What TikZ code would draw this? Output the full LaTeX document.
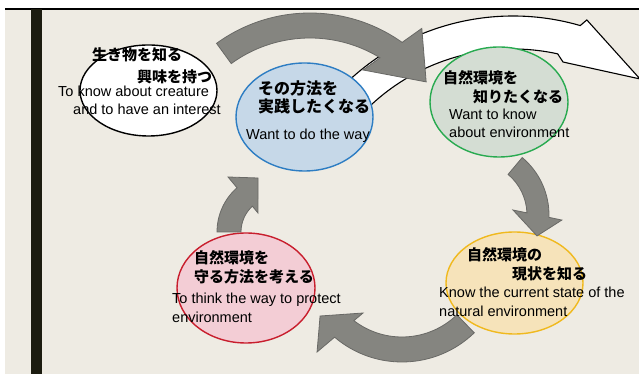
\documentclass[tikz,border=0pt]{standalone}
\usepackage{fontspec}
\newfontfamily\enfont{Liberation Sans}
\newfontfamily\jpfont{Noto Sans CJK JP}
\usetikzlibrary{shapes.geometric,calc}
\definecolor{bgc}{RGB}{238,235,227}
\definecolor{barc}{RGB}{28,28,16}
\definecolor{grayc}{RGB}{133,133,128}
\definecolor{grayd}{RGB}{105,105,102}
\definecolor{blueF}{RGB}{198,216,232}
\definecolor{blueD}{RGB}{45,125,195}
\definecolor{greenF}{RGB}{212,221,211}
\definecolor{greenD}{RGB}{40,170,80}
\definecolor{yelF}{RGB}{246,227,186}
\definecolor{yelD}{RGB}{240,185,30}
\definecolor{redF}{RGB}{243,205,213}
\definecolor{redD}{RGB}{200,30,45}
\begin{document}
\begin{tikzpicture}[x=1pt,y=1pt,
  bubble/.style={ellipse, inner sep=0pt, line width=1.4pt},
  jp/.style={font=\jpfont\bfseries\fontsize{15}{18}\selectfont, anchor=west, inner sep=0pt, text height=11.4pt, text depth=0pt},
  jpb/.style={jp, font=\jpfont\bfseries\fontsize{16}{19}\selectfont, text height=12.2pt},
  en/.style={font=\enfont\fontsize{14.5}{17}\selectfont, anchor=west, inner sep=0pt, text height=10.4pt, text depth=0pt},
  grayarrow/.style={fill=grayc, draw=grayd, line width=0.8pt, line join=miter},
  whitearrow/.style={fill=white, draw=black, line width=1.1pt, line join=miter}]
\useasboundingbox (0,0) rectangle (639,374);
\clip (0,0) rectangle (639,374);
\fill[white] (0,0) rectangle (639,374);
\fill[bgc] (5,0) rectangle (639,365);
\draw[line width=1.5pt, black] (5,365) -- (639,365);
\fill[barc] (31,0) rectangle (42,365);

% centres of the curved arrows
\coordinate (cW) at (513,117);
\coordinate (cT) at (310,202);
\coordinate (cR) at (474,159);
\coordinate (cB) at (402,116);
\coordinate (cL) at (276,142);

% white arrow (behind)
\draw[whitearrow] ($(cW)+(145:241)$) arc[start angle=145,end angle=73.8,radius=241pt]
  -- ($(cW)+(72.7:248.3)$) -- ($(cW)+(54.5:218.7)$) -- ($(cW)+(75.6:201.3)$)
  -- ($(cW)+(77.6:208)$) arc[start angle=77.6,end angle=145,radius=208pt] -- cycle;

% ellipses
\node[bubble, fill=white, draw=black, minimum width=137pt, minimum height=91pt] (eWhite) at (148.5,283.5) {};
\node[bubble, fill=blueF, draw=blueD, minimum width=137pt, minimum height=108pt] (eBlue) at (304.5,257) {};
\node[bubble, fill=greenF, draw=greenD, minimum width=138pt, minimum height=110pt] (eGreen) at (499,272) {};
\node[bubble, fill=yelF, draw=yelD, minimum width=137pt, minimum height=102pt] (eYellow) at (514.5,91) {};
\node[bubble, fill=redF, draw=redD, minimum width=138pt, minimum height=110pt] (eRed) at (246,86) {};

% gray arrows
\draw[grayarrow] ($(cT)+(126:159)$) arc[start angle=126,end angle=54.6,radius=159pt]
  -- ($(cT)+(52.1:182)$) -- ($(cT)+(37.8:147)$) -- ($(cT)+(62.5:115)$)
  -- ($(cT)+(58.5:134)$) arc[start angle=58.5,end angle=126,radius=134pt] -- cycle;
\draw[grayarrow] ($(cR)+(50:75)$) arc[start angle=50,end angle=-1.8,radius=75pt]
  -- ($(cR)+(-3.3:88)$) -- ($(cR)+(-18.4:66.4)$) -- ($(cR)+(7.3:39.3)$)
  -- ($(cR)+(2.3:53)$) arc[start angle=2.3,end angle=50,radius=53pt] -- cycle;
\draw[grayarrow] ($(cB)+(-46:104)$) arc[start angle=-46,end angle=-130.4,radius=104pt]
  -- ($(cB)+(-132.1:126.7)$) -- ($(cB)+(-144.7:100.4)$) -- ($(cB)+(-125.3:67.4)$)
  -- ($(cB)+(-127.5:79)$) arc[start angle=-127.5,end angle=-46,radius=79pt] -- cycle;
\draw[grayarrow] ($(cL)+(180:59)$) arc[start angle=180,end angle=131.4,radius=59pt]
  -- ($(cL)+(131.1:73)$) -- ($(cL)+(108.4:56.9)$) -- ($(cL)+(133.5:26.2)$)
  -- ($(cL)+(132.5:35)$) arc[start angle=132.5,end angle=180,radius=35pt] -- cycle;

% texts
\node[jp] (tW1) at (92,319) {生き物を知る};
\node[jp] (tW2) at (137,297) {興味を持つ};
\node[en] (tW3) at (58,283) {To know about creature};
\node[en] (tW4) at (73,265) {and to have an interest};

\node[jpb] (tB1) at (258,285.5) {その方法を};
\node[jpb] (tB2) at (258,267.5) {実践したくなる};
\node[en] (tB3) at (246,240) {Want to do the way};

\node[jp] (tG1) at (443,296) {自然環境を};
\node[jp] (tG2) at (473,277) {知りたくなる};
\node[en] (tG3) at (449,260) {Want to know};
\node[en] (tG4) at (449,241.5) {about environment};

\node[jp] (tY1) at (467,119) {自然環境の};
\node[jp] (tY2) at (512,100) {現状を知る};
\node[en] (tY3) at (439,82) {Know the current state of the};
\node[en] (tY4) at (439,63) {natural environment};

\node[jp] (tR1) at (194,116) {自然環境を};
\node[jp] (tR2) at (194,97) {守る方法を考える};
\node[en] (tR3) at (172,76) {To think the way to protect};
\node[en] (tR4) at (172,56.5) {environment};
\end{tikzpicture}
\end{document}
